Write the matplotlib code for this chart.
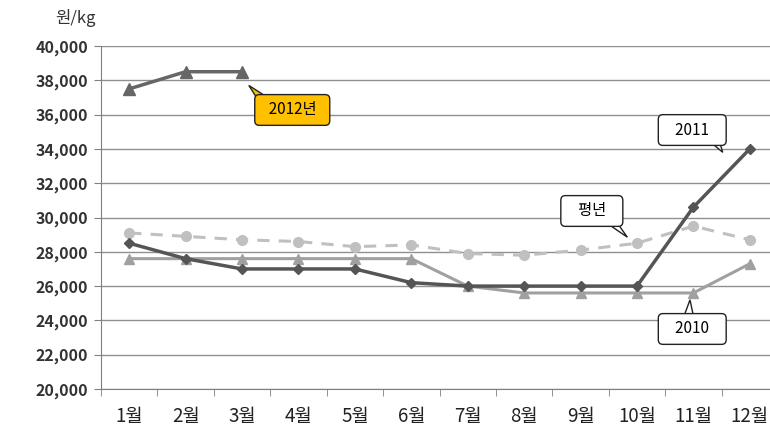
import matplotlib.pyplot as plt
import numpy as np

plt.rcParams['font.family'] = ['Noto Sans CJK KR', 'DejaVu Sans']

months = ['1월', '2월', '3월', '4월', '5월', '6월', '7월', '8월', '9월', '10월', '11월', '12월']
y2012 = [37500, 38500, 38500]
y2011 = [28500, 27600, 27000, 27000, 27000, 26200, 26000, 26000, 26000, 26000, 30600, 34000]
y2010 = [27600, 27600, 27600, 27600, 27600, 27600, 26000, 25600, 25600, 25600, 25600, 27300]
avg = [29100, 28900, 28700, 28600, 28300, 28400, 27900, 27800, 28100, 28500, 29500, 28700]
yticks = np.arange(20000, 40001, 2000)

x = np.arange(1, 13)

fig = plt.figure(figsize=(7.7, 4.28), dpi=100)
ax = fig.add_axes([101/770, 39/428, 677/770, 343/428])

ax.plot(x, avg, '--', color='#c0c0c0', lw=2.2, marker='o', ms=7, dashes=(4, 3), zorder=2)
ax.plot(x, y2010, '-', color='#a0a0a0', lw=2.2, marker='^', ms=7, zorder=3)
ax.plot(x, y2011, '-', color='#555555', lw=2.5, marker='D', ms=5.5, zorder=4)
ax.plot(x[:3], y2012, '-', color='#666666', lw=2.5, marker='^', ms=8, zorder=4)

ax.set_xlim(0.5, 12.5)
ax.set_ylim(20000, 40000)
ax.set_yticks(yticks)
ax.set_yticklabels([f'{v:,}' for v in yticks], fontsize=11.5, fontweight='bold', color='#333333')
ax.set_xticks(x)
ax.set_xticklabels(months, fontsize=13.5, color='#222222')
ax.set_xticks(np.arange(0.5, 12.6, 1), minor=True)
ax.tick_params(axis='x', which='major', length=0, pad=12)
ax.tick_params(axis='x', which='minor', length=5, color='#808080')
ax.tick_params(axis='y', length=5, color='#808080', pad=4)
ax.grid(axis='y', color='#909090', lw=1)
ax.set_axisbelow(True)
for s in ['top', 'right']:
    ax.spines[s].set_visible(False)
for s in ['left', 'bottom']:
    ax.spines[s].set_color('#808080')

fig.text(55/770, 1 - 18/428, '원/kg', fontsize=12, va='center', ha='left', color='#333333')

# speech-bubble callouts: box text + triangular pointer
def callout(text, center, tip, base, fc='white'):
    ax.fill([base[0], base[1], tip[0]], [center[1], center[1], tip[1]],
            fc=fc, ec='#222222', lw=1, zorder=6)
    ax.text(center[0], center[1], text, ha='center', va='center', fontsize=11, zorder=7,
            bbox=dict(boxstyle='round,pad=0.45,rounding_size=0.3', fc=fc, ec='#222222', lw=1))

callout('  2012년  ', (3.89, 36270), (3.12, 37700), (3.4, 3.8), fc='#ffc000')
callout('   2011   ', (10.98, 35100), (11.52, 33800), (11.05, 11.4))
callout('   평년   ', (9.2, 30380), (9.83, 28850), (9.15, 9.5))
callout('   2010   ', (10.98, 23500), (10.94, 25200), (10.75, 11.05))

fig.savefig('out.png', dpi=100)
